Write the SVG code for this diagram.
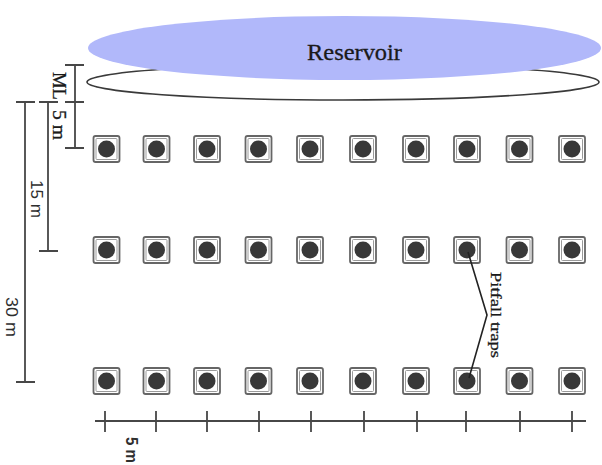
<svg xmlns="http://www.w3.org/2000/svg" width="602" height="465" viewBox="0 0 602 465">
  <style>
    .dim { stroke: #474747; stroke-width: 1.8; fill: none; }
    .box-out { fill: #ffffff; stroke: #666666; stroke-width: 1.8; }
    .box-in { fill: none; stroke: #9a9a9a; stroke-width: 1; }
    .dot { fill: #383838; }
    .serif { font-family: "Liberation Serif", "Times New Roman", serif; fill: #1a1a1a; }
    .sans { font-family: "Liberation Sans", Arial, sans-serif; fill: #2e2e2e; }
  </style>
  <defs>
    <g id="trap">
      <rect class="box-out" x="-13" y="-13" width="26" height="26" rx="2"/>
      <rect class="box-in" x="-10.5" y="-10.5" width="21" height="21" rx="1"/>
      <circle class="dot" r="8.5"/>
    </g>
  </defs>
  <rect width="602" height="465" fill="#ffffff"/>

  <!-- reservoir -->
  <g id="reservoir">
    <ellipse cx="343" cy="82" rx="256" ry="18" fill="#ffffff" stroke="#3a3a3a" stroke-width="1.6"/>
    <ellipse cx="344.5" cy="48" rx="256.5" ry="32" fill="#b1b8fa"/>
    <text class="serif" x="354.5" y="60" font-size="23" text-anchor="middle" textLength="95" lengthAdjust="spacingAndGlyphs" stroke="#1a1a1a" stroke-width="0.3">Reservoir</text>
  </g>

  <!-- dimension bars on the left -->
  <g id="dimensions">
    <path class="dim" d="M75 65V148M65 65H84M65 102H84M65 148H84"/>
    <path class="dim" d="M48 102V251M39 102H58M39 251H58"/>
    <path class="dim" d="M25 102V382M16 102H35M16 382H35"/>
    <text class="serif" font-size="18" text-anchor="middle" transform="translate(59,86) rotate(90)" y="6" textLength="28" lengthAdjust="spacingAndGlyphs" stroke="#1a1a1a" stroke-width="0.3">ML</text>
    <text class="serif" font-size="18" text-anchor="middle" transform="translate(59,125) rotate(90)" y="6" textLength="30" lengthAdjust="spacingAndGlyphs" stroke="#1a1a1a" stroke-width="0.3">5 m</text>
    <text class="sans" font-size="16" text-anchor="middle" transform="translate(36.5,199) rotate(90)" y="6" textLength="38" lengthAdjust="spacingAndGlyphs">15 m</text>
    <text class="sans" font-size="16" text-anchor="middle" transform="translate(11.5,317) rotate(90)" y="6" textLength="40" lengthAdjust="spacingAndGlyphs">30 m</text>
  </g>

  <!-- bottom scale -->
  <g id="scale">
    <path class="dim" stroke-width="2.2" d="M95 421H586"/>
    <path class="dim" d="M105 411V432M156 411V432M207 411V432M259 411V432M311 411V432M364 411V432M417 411V432M466 411V432M520 411V432M572 411V432"/>
    <text class="sans" font-size="16" font-weight="bold" text-anchor="middle" transform="translate(132,450) rotate(90)" y="6" textLength="26" lengthAdjust="spacingAndGlyphs">5 m</text>
  </g>

  <!-- pitfall trap rows -->
  <g id="row1">
    <use href="#trap" x="106.5" y="149"/>
    <use href="#trap" x="156.5" y="149"/>
    <use href="#trap" x="207" y="149"/>
    <use href="#trap" x="258.5" y="149"/>
    <use href="#trap" x="310" y="149"/>
    <use href="#trap" x="363" y="149"/>
    <use href="#trap" x="416" y="149"/>
    <use href="#trap" x="467" y="149"/>
    <use href="#trap" x="519.5" y="149"/>
    <use href="#trap" x="572" y="149"/>
  </g>
  <g id="row2">
    <use href="#trap" x="106.5" y="250"/>
    <use href="#trap" x="156.5" y="250"/>
    <use href="#trap" x="207" y="250"/>
    <use href="#trap" x="258.5" y="250"/>
    <use href="#trap" x="310" y="250"/>
    <use href="#trap" x="363" y="250"/>
    <use href="#trap" x="416" y="250"/>
    <use href="#trap" x="467" y="250"/>
    <use href="#trap" x="519.5" y="250"/>
    <use href="#trap" x="572" y="250"/>
  </g>
  <g id="row3">
    <use href="#trap" x="106.5" y="381"/>
    <use href="#trap" x="156.5" y="381"/>
    <use href="#trap" x="207" y="381"/>
    <use href="#trap" x="258.5" y="381"/>
    <use href="#trap" x="310" y="381"/>
    <use href="#trap" x="363" y="381"/>
    <use href="#trap" x="416" y="381"/>
    <use href="#trap" x="467" y="381"/>
    <use href="#trap" x="519.5" y="381"/>
    <use href="#trap" x="572" y="381"/>
  </g>

  <!-- label pointers -->
  <g id="connectors">
    <polyline points="468,252 487,315 469,378" fill="none" stroke="#222" stroke-width="1.6"/>
  </g>
  <g id="label-traps">
    <text class="serif" font-size="15" text-anchor="middle" transform="translate(496,315) rotate(90)" y="5" textLength="86" lengthAdjust="spacingAndGlyphs" stroke="#1a1a1a" stroke-width="0.3">Pitfall traps</text>
  </g>
</svg>
